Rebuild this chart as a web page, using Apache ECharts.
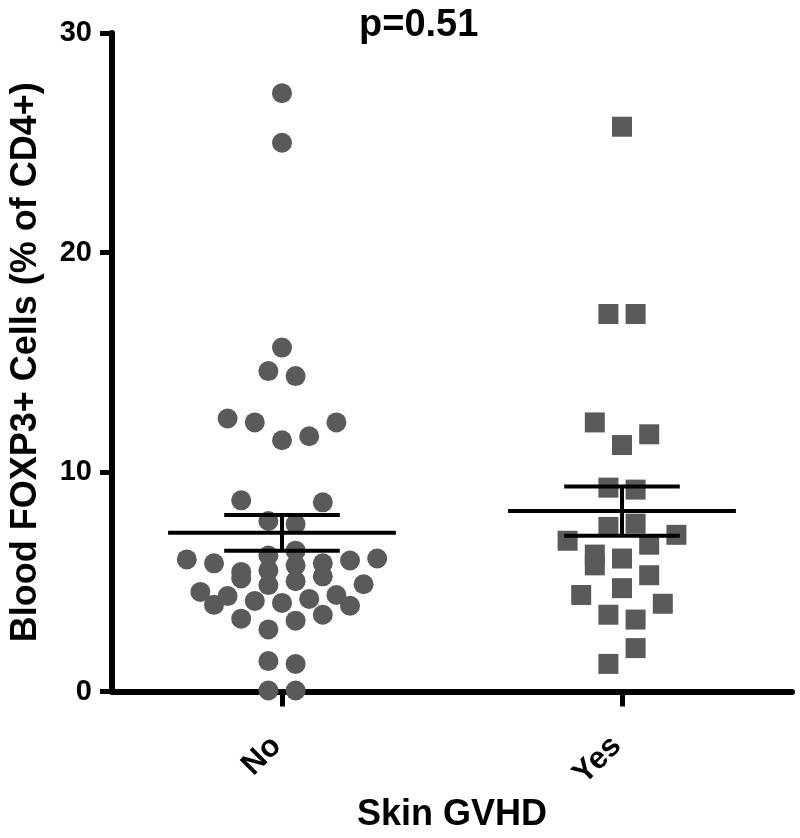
<!DOCTYPE html>
<html>
<head>
<meta charset="utf-8">
<script src="https://cdn.jsdelivr.net/npm/echarts@6/dist/echarts.min.js"></script>
<style>
  html, body { margin: 0; padding: 0; background: #fff; }
  #main { width: 800px; height: 838px; }
</style>
</head>
<body>
<div id="main"></div>
<script>
// groups on the x axis
var groups = ['No', 'Yes'];

// Skin GVHD = No : values and their beeswarm column
var noValues = [27.26, 25.0, 15.67, 14.6, 14.37, 12.44, 12.26, 11.45, 11.63, 12.26,
  8.71, 8.62, 7.77, 7.63, 6.2, 5.52, 4.85, 6.42, 5.75, 5.03,
  6.02, 5.84, 5.45, 5.15, 5.84, 5.25, 5.97, 6.06, 4.89, 4.54,
  3.95, 4.35, 4.13, 4.04, 4.22, 4.40, 3.91, 3.32, 3.23, 3.50,
  2.83, 1.39, 1.26, 0.05, 0.05];
var noColumns = [0, 0, 0, -1, 1, -4, -2, 0, 2, 4,
  -3, 3, -1, 1, -1, -1, -1, 1, 1, 1,
  -7, -5, -3, -3, 3, 3, 5, 7, 6, -6,
  -5, -4, -2, 0, 2, 4, 5, -3, 1, 3,
  -1, -1, 1, -1, 1];

// Skin GVHD = Yes
var yesValues = [25.73, 17.2, 17.2, 12.26, 11.23, 11.72, 9.29, 9.2, 7.5, 7.65,
  7.14, 6.87, 6.69, 6.24, 5.75, 6.06, 5.30, 4.40, 4.71, 4.0,
  3.50, 3.28, 1.98, 1.26];
var yesColumns = [0, -1, 1, -2, 0, 2, -1, 1, -1, 1,
  4, -4, 2, -2, -2, 0, 2, -3, 0, 3,
  -1, 1, 1, -1];

// mean and SEM per group
var means = [7.23, 8.22];
var sems = [0.81, 1.12];

var yTicks = [0, 10, 20, 30];
var pText = 'p=0.51';

var FONT = "'Liberation Sans', Arial, sans-serif";
var colStep = 0.04;   // one beeswarm column, in x-axis units
var meanHalf = 0.335; // half length of the mean line
var capHalf = 0.17;   // half length of the SEM caps

function swarm(values, columns, g) {
  var out = [];
  for (var i = 0; i < values.length; i++) {
    out.push([g + 0.5 + columns[i] * colStep, values[i]]);
  }
  return out;
}

var barData = [];
for (var g = 0; g < groups.length; g++) {
  barData.push([g + 0.5, means[g], sems[g]]);
}

var myChart = echarts.init(document.getElementById('main'), null, { renderer: 'canvas' });

var option = {
  backgroundColor: '#fff',
  animation: false,
  title: {
    text: pText,
    left: 354,
    top: 2,
    textStyle: { fontFamily: FONT, fontSize: 38, fontWeight: 'bold', color: '#000' }
  },
  grid: { left: 110, right: 8, top: 33, bottom: 138, containLabel: false },
  xAxis: [
    {
      type: 'category',
      data: groups,
      boundaryGap: true,
      name: 'Skin GVHD',
      nameLocation: 'middle',
      nameGap: 104,
      nameTextStyle: { fontFamily: FONT, fontSize: 36, fontWeight: 'bold', color: '#000' },
      axisLine: { show: true, lineStyle: { color: '#000', width: 6 } },
      axisTick: { show: true, alignWithLabel: true, length: 15, lineStyle: { color: '#000', width: 5 } },
      axisLabel: {
        rotate: 45, margin: 44, interval: 0, padding: [0, 8, 0, 0],
        fontFamily: FONT, fontSize: 31, fontWeight: 'bold', color: '#000'
      },
      splitLine: { show: false }
    },
    {
      type: 'value',
      min: 0, max: 2,
      show: false,
      position: 'bottom'
    }
  ],
  yAxis: {
    type: 'value',
    min: 0, max: 30, interval: 10,
    name: 'Blood FOXP3+ Cells (% of CD4+)',
    nameLocation: 'middle',
    nameGap: 68,
    nameTextStyle: { fontFamily: FONT, fontSize: 36, fontWeight: 'bold', color: '#000' },
    axisLine: { show: true, lineStyle: { color: '#000', width: 6 } },
    axisTick: { show: true, length: 12, lineStyle: { color: '#000', width: 5 } },
    axisLabel: {
      margin: 20,
      fontFamily: FONT, fontSize: 29, fontWeight: 'bold', color: '#000',
      formatter: function (v) { return yTicks.indexOf(v) >= 0 ? String(v) : ''; }
    },
    splitLine: { show: false }
  },
  series: [
    {
      name: groups[0],
      type: 'scatter',
      xAxisIndex: 1,
      symbol: 'circle',
      symbolSize: 20,
      itemStyle: { color: '#5a5a5a', opacity: 1 },
      data: swarm(noValues, noColumns, 0),
      z: 2
    },
    {
      name: groups[1],
      type: 'scatter',
      xAxisIndex: 1,
      symbol: 'rect',
      symbolSize: 20,
      itemStyle: { color: '#5a5a5a', opacity: 1 },
      data: swarm(yesValues, yesColumns, 1),
      z: 2
    },
    {
      type: 'custom',
      xAxisIndex: 1,
      z: 5,
      data: barData,
      renderItem: function (params, api) {
        var x = api.value(0), m = api.value(1), s = api.value(2);
        var style = { stroke: '#000', lineWidth: 4 };
        function seg(x1, y1, x2, y2) {
          var a = api.coord([x1, y1]), b = api.coord([x2, y2]);
          return { type: 'line', shape: { x1: a[0], y1: a[1], x2: b[0], y2: b[1] }, style: style };
        }
        return {
          type: 'group',
          children: [
            seg(x - meanHalf, m, x + meanHalf, m),
            seg(x - capHalf, m + s, x + capHalf, m + s),
            seg(x - capHalf, m - s, x + capHalf, m - s),
            seg(x, m - s, x, m + s)
          ]
        };
      }
    }
  ]
};

myChart.setOption(option);
window.onresize = myChart.resize;
</script>
</body>
</html>
